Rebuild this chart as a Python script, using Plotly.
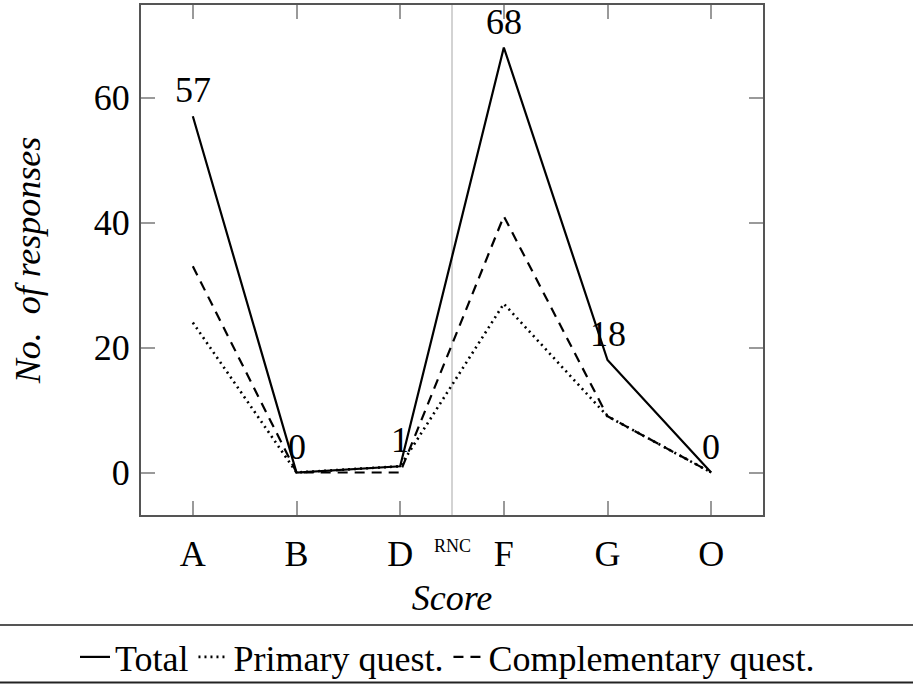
import plotly.graph_objects as go

categories = ["A", "B", "D", "F", "G", "O"]
total = [57, 0, 1, 68, 18, 0]
primary = [24, 0, 1, 27, 9, 0]
complementary = [33, 0, 0, 41, 9, 0]
y_ticks = [0, 20, 40, 60]
separator_after = "D"
separator_label = "RNC"

FONT = "Liberation Serif, Times New Roman, DejaVu Serif, serif"
x = list(range(len(categories)))

fig = go.Figure()
fig.add_trace(go.Scatter(x=x, y=total, mode="lines", name="Total",
                         line=dict(color="black", width=2.2)))
fig.add_trace(go.Scatter(x=x, y=primary, mode="lines", name="Primary quest.",
                         line=dict(color="black", width=2.6, dash="2px,4px")))
fig.add_trace(go.Scatter(x=x, y=complementary, mode="lines", name="Complementary quest.",
                         line=dict(color="black", width=2.2, dash="10px,7px")))

# value labels on total
for xi, v in zip(x, total):
    fig.add_annotation(x=xi, y=v, text=str(v), showarrow=False, yanchor="bottom",
                       yshift=4, font=dict(family=FONT, size=36, color="black"))

sep_x = categories.index(separator_after) + 0.5
fig.add_shape(type="line", xref="x", yref="paper", x0=sep_x, x1=sep_x, y0=0, y1=1,
              line=dict(color="#c4c4c4", width=1.5), layer="below")
fig.add_annotation(x=sep_x, xref="x", y=0, yref="paper", text=separator_label,
                   showarrow=False, yanchor="top", yshift=-19,
                   font=dict(family=FONT, size=18, color="black"))

# legend rules
L, R, T, B = 141, 763, 5, 515
W, H = 913, 684
pw, ph = R - L, B - T
for ypix, col in [(625, "#555555"), (682.5, "#222222")]:
    fig.add_shape(type="line", xref="paper", yref="paper",
                  x0=-L / pw, x1=(W - L) / pw, y0=(B - ypix) / ph, y1=(B - ypix) / ph,
                  line=dict(color=col, width=2))

axis_common = dict(showline=True, linecolor="#555555", linewidth=2, mirror="ticks",
                   ticks="inside", ticklen=14, tickcolor="#9a9a9a", tickwidth=1.5,
                   showgrid=False, zeroline=False,
                   tickfont=dict(family=FONT, size=36, color="black"))

fig.update_xaxes(range=[-0.5, len(categories) - 0.5], tickvals=x, ticktext=categories,
                 title=dict(text="<i>Score</i>", standoff=12,
                            font=dict(family=FONT, size=36, color="black")),
                 ticklabelstandoff=6, **axis_common)
fig.update_yaxes(range=[-6.8, 74.8], tickvals=y_ticks,
                 title=dict(text="<i>No.  of responses</i>", standoff=42,
                            font=dict(family=FONT, size=36, color="black")),
                 ticklabelstandoff=2, **axis_common)

fig.update_layout(
    width=W, height=H,
    margin=dict(l=L, r=W - R, t=T, b=H - B, autoexpand=False),
    paper_bgcolor="white", plot_bgcolor="white",
    showlegend=True,
    legend=dict(orientation="h", x=(75 - L) / pw, xanchor="left", xref="paper",
                y=(B - 627) / ph, yanchor="top", yref="paper",
                font=dict(family=FONT, size=36, color="black"),
                bgcolor="rgba(0,0,0,0)", itemwidth=30, tracegroupgap=0),
    font=dict(family=FONT),
)

fig.write_html("out.html")
